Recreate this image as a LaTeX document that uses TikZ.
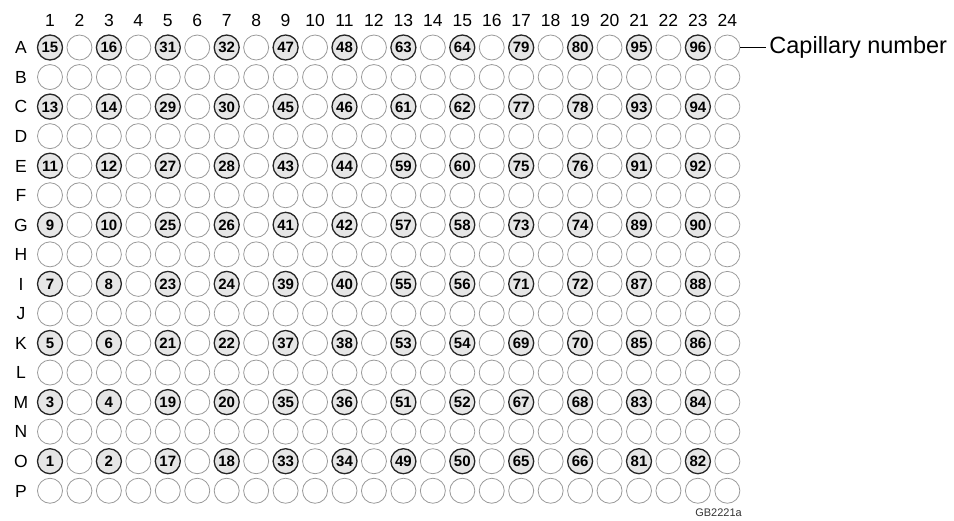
\documentclass[tikz,border=0pt]{standalone}
\usepackage{fontspec}
\setmainfont{Liberation Sans}
\usetikzlibrary{positioning}

\definecolor{wellline}{HTML}{9A9A9A}
\definecolor{wellfill}{HTML}{E6E6E6}

\tikzset{
  well/.style={draw=wellline,circle,minimum size=25pt,inner sep=0pt,line width=0.8pt},
  capwell/.style={well,draw=black!85,fill=wellfill,line width=1.3pt,font=\fontsize{15}{15}\selectfont\bfseries,
    text height=10.8pt,text depth=0pt},
  axislabel/.style={font=\fontsize{17.5}{17.5}\selectfont,inner sep=0pt,text height=12.6pt,text depth=0pt},
}

\begin{document}
\begin{tikzpicture}[x=1pt,y=-1pt]
\useasboundingbox (0,0) rectangle (954,520);
% column numbers
\foreach \c in {1,...,24}
  \node[axislabel] (col\c) at ({50+(\c-1)*29.45},20) {\c};
% rows A..P, odd row + odd column = capillary well
\foreach \l [count=\r] in {A,B,C,D,E,F,G,H,I,J,K,L,M,N,O,P}{
  \node[axislabel] (row\l) at (21,{47.5+(\r-1)*29.55}) {\l};
  \foreach \c in {1,...,24}{
    \pgfmathtruncatemacro\isfilled{and(isodd(\r),isodd(\c))}
    \pgfmathtruncatemacro\capno{16*int((\c-1)/4)+(15-\r)+1+(mod(\c-1,4)==2)}
    \ifnum\isfilled=1
      \node[capwell] (w\l\c) at ({50+(\c-1)*29.45},{47.5+(\r-1)*29.55}) {\capno};
    \else
      \node[well] (w\l\c) at ({50+(\c-1)*29.45},{47.5+(\r-1)*29.55}) {};
    \fi
  }
}
\node[font=\fontsize{23.5}{23.5}\selectfont,inner sep=3pt,right=26pt of wA24] (caplabel) {Capillary number};
\draw[line width=0.9pt] (wA24) -- (caplabel);
\node[font=\fontsize{11}{11}\selectfont,text=black!80] (figid) at (718.5,512.5) {GB2221a};
\end{tikzpicture}
\end{document}
